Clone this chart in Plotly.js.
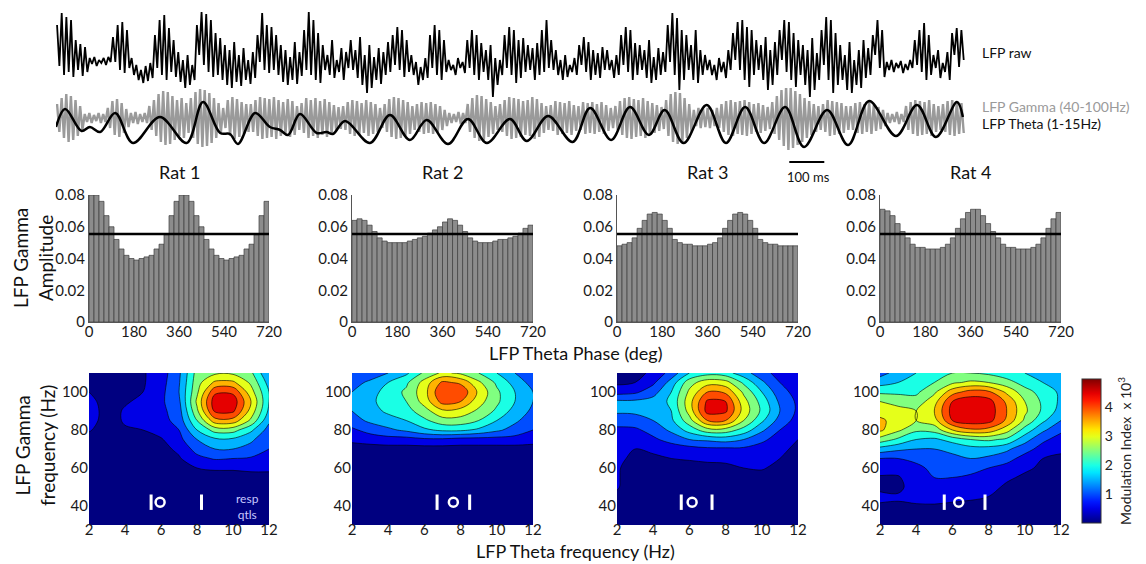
<!DOCTYPE html>
<html><head><meta charset="utf-8">
<script src="https://cdn.plot.ly/plotly-3.0.1.min.js"></script>
<style>html,body{margin:0;padding:0;background:#fff;}#chart{width:1146px;height:564px;}</style>
</head><body><div id="chart"></div>
<script>
// ---------------- DATA ----------------
const ratNames = ['Rat 1','Rat 2','Rat 3','Rat 4'];
const phaseDeg = [10,30,50,70,90,110,130,150,170,190,210,230,250,270,290,310,330,350,370,390,410,430,450,470,490,510,530,550,570,590,610,630,650,670,690,710];
const phaseTicks = [0,180,360,540,720];
const rat1Amp = [0.080,0.080,0.076,0.067,0.060,0.052,0.046,0.042,0.040,0.039,0.040,0.041,0.042,0.046,0.049,0.055,0.067,0.076,0.080,0.080,0.076,0.067,0.060,0.052,0.046,0.042,0.040,0.039,0.040,0.041,0.042,0.046,0.049,0.055,0.067,0.076];
const rat2Amp = [0.064,0.065,0.064,0.061,0.057,0.053,0.051,0.050,0.050,0.050,0.050,0.051,0.052,0.053,0.054,0.056,0.058,0.060,0.063,0.065,0.064,0.061,0.057,0.053,0.051,0.050,0.050,0.050,0.051,0.052,0.052,0.053,0.054,0.056,0.059,0.061];
const rat3Amp = [0.048,0.049,0.050,0.053,0.059,0.064,0.068,0.069,0.068,0.064,0.059,0.052,0.050,0.049,0.049,0.048,0.048,0.048,0.049,0.050,0.053,0.059,0.064,0.068,0.069,0.068,0.064,0.059,0.052,0.050,0.049,0.049,0.048,0.048,0.048,0.048];
const rat4Amp = [0.071,0.070,0.067,0.062,0.057,0.053,0.049,0.047,0.047,0.046,0.046,0.046,0.047,0.049,0.053,0.059,0.065,0.069,0.071,0.071,0.067,0.062,0.057,0.053,0.049,0.047,0.047,0.046,0.046,0.046,0.047,0.049,0.053,0.059,0.065,0.069];
const thresholdPhase = [0,720];
const thresholdAmp = [0.0555,0.0555];

const thetaFreq = [2,3,4,5,6,7,8,9,10,11,12];
const gammaFreq = [110,105,100,95,90,85,80,75,70,65,60,55,50,45,40,35,30];
const rat1MI = [
 [0.2,0.2,0.25,0.45,0.75,1.4,2.7,2.9,2.9,2.6,1.5],
 [0.2,0.2,0.3,0.45,0.8,1.45,2.8,3.6,3.6,2.9,1.8],
 [0.5,0.25,0.35,0.5,0.85,1.5,2.9,4.4,4.4,3.2,2.0],
 [0.65,0.3,0.45,0.6,0.9,1.4,3.1,4.8,4.8,3.5,2.0],
 [0.75,0.3,0.55,0.65,0.85,1.3,2.9,4.6,4.6,3.3,1.9],
 [0.7,0.3,0.55,0.6,0.8,1.2,2.5,3.8,3.8,2.9,1.6],
 [0.55,0.25,0.45,0.5,0.7,1.0,2.0,2.7,2.7,2.1,1.3],
 [0.3,0.2,0.3,0.35,0.45,0.85,1.5,1.9,1.9,1.6,1.1],
 [0.15,0.15,0.2,0.25,0.35,0.6,1.2,1.5,1.5,1.3,1.0],
 [0.15,0.15,0.2,0.2,0.3,0.45,0.85,1.05,1.0,0.95,0.85],
 [0.15,0.15,0.15,0.2,0.3,0.35,0.5,0.55,0.55,0.6,0.6],
 [0.15,0.15,0.15,0.2,0.35,0.3,0.3,0.35,0.35,0.35,0.35],
 [0.15,0.15,0.15,0.2,0.3,0.25,0.25,0.25,0.25,0.25,0.25],
 [0.15,0.15,0.15,0.15,0.2,0.2,0.2,0.2,0.2,0.2,0.2],
 [0.15,0.15,0.15,0.15,0.15,0.15,0.15,0.15,0.15,0.15,0.15],
 [0.15,0.15,0.15,0.15,0.15,0.15,0.15,0.15,0.15,0.15,0.15],
 [0.15,0.15,0.15,0.15,0.15,0.15,0.15,0.15,0.15,0.15,0.15]];
const rat2MI = [
 [1.1,1.2,1.5,1.9,2.6,3.1,2.9,2.5,2.0,1.5,1.0],
 [1.3,1.6,2.0,2.4,3.2,4.1,3.9,3.1,2.4,1.8,1.3],
 [1.5,1.8,2.2,2.6,3.3,4.5,4.4,3.4,2.6,2.0,1.5],
 [1.6,1.9,2.2,2.5,3.2,4.2,4.0,3.2,2.6,2.0,1.5],
 [1.5,1.8,2.1,2.3,2.8,3.4,3.3,2.9,2.4,1.8,1.4],
 [1.3,1.6,1.8,2.0,2.4,2.8,2.8,2.5,2.0,1.6,1.2],
 [0.9,1.2,1.4,1.6,1.9,2.1,2.1,1.9,1.6,1.3,1.0],
 [0.6,0.7,0.8,0.8,0.9,0.9,0.8,0.8,0.8,0.8,0.7],
 [0.3,0.3,0.3,0.3,0.3,0.3,0.3,0.3,0.3,0.3,0.3],
 [0.2,0.2,0.2,0.2,0.2,0.2,0.2,0.2,0.2,0.2,0.2],
 [0.2,0.2,0.2,0.2,0.2,0.2,0.2,0.2,0.2,0.2,0.2],
 [0.2,0.2,0.2,0.2,0.2,0.2,0.2,0.2,0.2,0.2,0.2],
 [0.2,0.2,0.2,0.2,0.2,0.2,0.2,0.2,0.2,0.2,0.2],
 [0.2,0.2,0.2,0.2,0.2,0.2,0.2,0.2,0.2,0.2,0.2],
 [0.2,0.2,0.2,0.2,0.2,0.2,0.2,0.2,0.2,0.2,0.2],
 [0.2,0.2,0.2,0.2,0.2,0.2,0.2,0.2,0.2,0.2,0.2],
 [0.2,0.2,0.2,0.2,0.2,0.2,0.2,0.2,0.2,0.2,0.2]];
const rat3MI = [
 [0.3,0.35,0.6,1.2,2.0,2.3,2.2,1.7,1.2,0.8,0.6],
 [0.4,0.5,0.9,1.7,2.8,3.3,3.2,2.4,1.6,1.0,0.7],
 [0.8,0.9,1.3,2.0,3.1,4.0,3.9,2.9,2.0,1.2,0.8],
 [1.6,1.6,1.7,2.1,3.3,4.6,4.5,3.2,2.3,1.4,0.9],
 [1.6,1.6,1.7,2.0,3.2,4.7,4.6,3.3,2.4,1.5,0.9],
 [1.2,1.3,1.5,1.9,2.8,4.0,4.0,3.0,2.1,1.3,0.8],
 [0.9,0.9,1.2,1.6,2.2,2.8,2.8,2.3,1.6,1.0,0.6],
 [0.7,0.6,0.9,1.2,1.5,1.6,1.7,1.5,1.1,0.8,0.5],
 [0.6,0.5,0.6,0.7,0.8,0.9,0.9,0.9,0.8,0.6,0.4],
 [0.6,0.4,0.4,0.5,0.55,0.6,0.6,0.65,0.65,0.5,0.3],
 [0.55,0.3,0.3,0.3,0.3,0.35,0.4,0.5,0.55,0.35,0.25],
 [0.55,0.25,0.2,0.2,0.2,0.2,0.25,0.3,0.3,0.25,0.2],
 [0.55,0.2,0.2,0.2,0.2,0.2,0.2,0.2,0.2,0.2,0.2],
 [0.4,0.2,0.2,0.2,0.2,0.2,0.2,0.2,0.2,0.2,0.2],
 [0.2,0.2,0.2,0.2,0.2,0.2,0.2,0.2,0.2,0.2,0.2],
 [0.2,0.2,0.2,0.2,0.2,0.2,0.2,0.2,0.2,0.2,0.2],
 [0.2,0.2,0.2,0.2,0.2,0.2,0.2,0.2,0.2,0.2,0.2]];
const rat4MI = [
 [1.3,1.7,2.0,2.3,2.5,2.5,2.4,2.2,2.0,1.8,1.6],
 [1.8,2.0,2.1,2.5,2.9,3.1,3.0,2.7,2.3,2.0,1.7],
 [2.4,2.4,2.4,2.9,3.8,4.2,4.1,3.4,2.7,2.3,1.9],
 [3.0,2.8,2.7,3.3,4.5,4.8,4.7,3.9,3.0,2.4,1.9],
 [3.3,3.2,3.0,3.5,4.7,4.95,4.8,4.0,3.1,2.4,1.8],
 [3.6,3.3,3.0,3.3,4.5,4.8,4.7,3.9,2.9,2.1,1.5],
 [3.6,3.1,2.6,2.7,3.5,3.9,3.8,3.2,2.3,1.6,1.1],
 [2.8,2.4,2.0,1.9,2.2,2.5,2.6,2.4,1.7,1.1,0.8],
 [1.8,1.6,1.5,1.5,1.6,1.8,1.8,1.6,1.2,0.8,0.6],
 [1.0,1.0,1.1,1.2,1.4,1.5,1.4,1.2,0.8,0.5,0.4],
 [0.7,0.7,0.9,1.1,1.2,1.2,1.0,0.8,0.55,0.45,0.35],
 [0.45,0.45,0.8,1.0,1.0,0.9,0.7,0.55,0.45,0.35,0.3],
 [0.4,0.4,0.7,0.9,0.8,0.7,0.6,0.45,0.35,0.3,0.3],
 [0.6,0.55,0.65,0.7,0.65,0.6,0.5,0.4,0.3,0.3,0.3],
 [0.45,0.45,0.45,0.45,0.4,0.35,0.3,0.3,0.3,0.3,0.3],
 [0.3,0.3,0.3,0.3,0.3,0.3,0.3,0.3,0.3,0.3,0.3],
 [0.3,0.3,0.3,0.3,0.3,0.3,0.3,0.3,0.3,0.3,0.3]];
// response quantiles (low, median, high) in Hz
const rat1Qtl = [5.45,5.95,8.25];
const rat2Qtl = [6.7,7.6,8.5];
const rat3Qtl = [5.55,6.15,7.25];
const rat4Qtl = [5.55,6.35,7.8];
const qtlGamma = 42;
const miTicks = [1,2,3,4];
const miMax = 4.97;

// example LFP traces (time in ms)
const traceDurMs = 2597;
const scaleBarMs = [2095,2195];
const thetaMs = [0,26,73,97,126,169,220,297,373,420,469,497,520,569,611,640,663,697,745,773,791,826,897,954,1011,1059,1120,1177,1231,1297,1345,1406,1476,1526,1586,1640,1694,1739,1793,1859,1914,1969,2023,2083,2137,2203,2263,2323,2400,2460,2514,2574,2591];
const thetaVal = [-3,15,-7,-3,-8,11,-19,7,-19,22,-9,-10,-20,11,-3,-6,-11,10,-9,-8,-10,3,-19,9,-16,4,-20,5,-19,5,-17,8,-18,16,-16,17,-11,14,-19,19,-19,17,-19,17,-23,14,-21,23,-12,19,-13,22,7];
const gammaAmp = [14,20,24,22,18,12, 4,5,3,5,4, 10,17,19,15,9, 5,6,4,5, 12,18,24,27,26,22,18,20,15, 20,26,29,28,25,20,15,10, 18,21,19,16,14, 14,18,21,20,19,21,18,16,19,17,12, 15,20,18,20,17,19,16,13,11, 12,16,18,17,15,18,16,14,10, 14,19,21,20,18,16,12, 14,16,15,16,14,12,8, 5,4,6,5, 14,20,23,22,19,16,12, 14,18,21,20,19,17,18,21,19,15,12, 13,17,16,15,17,13, 12,16,15,16,14,16,13,10, 12,17,20,21,19,18,20,17,15,13,11, 18,24,26,25,20,14, 8,10,9,10,8, 10,14,17,18,16,17,18,16,14,15,13,11, 16,22,28,32,30,27,24,20,17,14,12, 14,18,17,16,15,12, 12,15,16,14,16,13,11,8, 5,4,6,4, 12,16,18,17,16,18,14,12, 14,17,18,16,15];
const rawPeaks = [75,87,83,80, 60,56,53, 42,43,40,42,43, 63,75,78,70, 42,35,30,34,37, 65,80,85,72, 60,48,40,45,35, 75,88,86,80, 67,62,55,50,58,45,52,40,48, 65,87,75, 73,65,55,50,43,58,48, 70,88,80,67, 55,45,60,40,52,48, 60,50,63,45,55,43,52,48,58, 65,73,70,60, 45,38,33,42, 65,75,70,60, 40,35,42,38, 60,70,65,57, 50,55,42,40, 65,73,70,60,62, 55,52,57,70,80, 60,50,40,45,35,42, 55,63,58,50,47,53, 50,40,45, 65,73,70,57, 55,50,60,43,52,48, 75,87,82,70, 65,55,70,50, 45,40,35,42,38,50, 67,78,80,73,70, 60,55,63,50,58, 70,80,78,67, 60,55,50,62,47, 70,83,80,67, 55,45,58,40,50,60,52, 65,80,70, 38,40,37,39,36,40, 60,70,77,65, 45,50,37,48, 67,72,70];
const rawTroughs = [34,25,28,23, 30,24,28, 36,34,37,35,38, 38,30,27,32, 25,20,17,19,22, 32,25,20,28, 23,18,12,15,20, 45,35,28,23, 25,20,15,12,18,14,20,16,22, 38,30,27, 30,25,18,15,20,16,24, 30,25,20,17, 30,25,22,28,20,32, 30,22,15,7,12,20,16,25,28, 35,30,23,28, 25,15,20,22, 32,25,20,28, 30,25,32,27, 32,25,20,28, 20,3,15,25, 32,25,17,22,28, 30,20,25,28,32, 30,25,20,23,28,25, 35,28,20,25,22,30, 30,22,25, 35,28,20,25, 30,22,17,20,25,28, 38,25,10,20, 30,20,17,25, 30,25,20,28,22,30, 40,30,20,13,25, 30,20,10,15,25, 40,28,20,13, 25,15,3,10,20, 35,20,7,15, 20,10,7,15,12,22,25, 45,32,23, 30,28,32,27,30,32, 35,28,20,25, 32,22,28,20, 45,33,40];

// ---------------- LAYOUT HELPERS ----------------
const W = 1146, H = 564;
const xd = (a,b) => [a/W, b/W];
const yd = (t,b) => [1-b/H, 1-t/H];
const FONT = 'Lato, "Open Sans", sans-serif';
const colPx = [[89,269],[352,533],[617,798],[880,1061]];
const ampSets = [rat1Amp,rat2Amp,rat3Amp,rat4Amp];
const miSets = [rat1MI,rat2MI,rat3MI,rat4MI];
const qtlSets = [rat1Qtl,rat2Qtl,rat3Qtl,rat4Qtl];

function jet(x){
  const c = v => Math.round(255*Math.max(0,Math.min(1,v)));
  return 'rgb('+c(1.5-Math.abs(4*x-3))+','+c(1.5-Math.abs(4*x-2))+','+c(1.5-Math.abs(4*x-1))+')';
}
const jetScale = [];
for(let i=0;i<=20;i++){ jetScale.push([i/20, jet(i/20)]); }
const bandScale = [];
for(let k=0;k<=9;k++){ bandScale.push([k/9, jet(k/10)]); }

const traces = [];
const layout = {
  width: W, height: H, margin:{l:0,r:0,t:0,b:0},
  paper_bgcolor:'#fff', plot_bgcolor:'rgba(0,0,0,0)',
  font:{family:FONT, size:15, color:'#111'},
  showlegend:false, bargap:0, annotations:[]
};
const tickFont = {size:15, color:'#1a1a1a'};

for(let i=0;i<4;i++){
  const s = String(i+1), sc = String(i+5);
  const [a,b] = colPx[i];
  traces.push({type:'bar', x:phaseDeg, y:ampSets[i], width:20, xaxis:'x'+s, yaxis:'y'+s,
    marker:{color:'#8c8c8c', line:{color:'#3c3c3c', width:0.7}}, hoverinfo:'skip'});
  traces.push({type:'scatter', mode:'lines', x:thresholdPhase, y:thresholdAmp, xaxis:'x'+s, yaxis:'y'+s,
    line:{color:'#000', width:2.5}, hoverinfo:'skip', cliponaxis:false});
  layout['xaxis'+(i===0?'':s)] = {domain:xd(a,b), range:[0,720], tickvals:phaseTicks, anchor:'y'+s,
    showline:true, linecolor:'#555', linewidth:1, ticks:'', ticklen:0, ticklabelstandoff:-4,
    showgrid:false, zeroline:false, tickfont:tickFont, fixedrange:true};
  layout['yaxis'+(i===0?'':s)] = {domain:yd(195,322), range:[0,0.08], tickvals:[0,0.02,0.04,0.06,0.08],
    ticktext:['0','0.02','0.04','0.06','0.08'], anchor:'x'+s,
    showline:true, linecolor:'#555', linewidth:1, ticks:'', ticklen:0, showgrid:false, zeroline:false,
    tickfont:tickFont, fixedrange:true};

  traces.push({type:'contour', x:thetaFreq, y:gammaFreq, z:miSets[i], xaxis:'x'+sc, yaxis:'y'+sc,
    autocontour:false, contours:{start:0.5, end:4.5, size:0.5, coloring:'fill'},
    colorscale:bandScale, showscale:false, line:{color:'#000', width:0.6, smoothing:1},
    hoverinfo:'skip'});
  const q = qtlSets[i];
  traces.push({type:'scatter', mode:'markers', x:[q[0],q[2]], y:[qtlGamma,qtlGamma], xaxis:'x'+sc, yaxis:'y'+sc,
    marker:{symbol:'line-ns-open', size:11, color:'#fff', line:{color:'#fff', width:3}}, hoverinfo:'skip'});
  traces.push({type:'scatter', mode:'markers', x:[q[1]], y:[qtlGamma], xaxis:'x'+sc, yaxis:'y'+sc,
    marker:{symbol:'circle-open', size:9, color:'#fff', line:{color:'#fff', width:2.5}}, hoverinfo:'skip'});
  layout['xaxis'+sc] = {domain:xd(a,b), range:[2,12], tickvals:[2,4,6,8,10,12], anchor:'y'+sc,
    showline:false, ticks:'', ticklen:0, ticklabelstandoff:-6, showgrid:false, zeroline:false,
    tickfont:tickFont, fixedrange:true};
  layout['yaxis'+sc] = {domain:yd(373,525), range:[30,110], tickvals:[40,60,80,100], anchor:'x'+sc,
    showline:false, ticks:'', ticklen:0, showgrid:false, zeroline:false, tickfont:tickFont, fixedrange:true};

  layout.annotations.push({text:ratNames[i], xref:'paper', yref:'paper', x:(a+b)/2/W, y:1-172/H,
    showarrow:false, font:{size:18, color:'#111'}, xanchor:'center', yanchor:'middle'});
}

// colorbar (continuous jet) carried by an off-range marker
traces.push({type:'scatter', mode:'markers', x:[-100], y:[0], xaxis:'x8', yaxis:'y8', hoverinfo:'skip',
  marker:{color:[0], cmin:0, cmax:miMax, colorscale:jetScale, showscale:true, size:1,
    colorbar:{x:1082/W, xanchor:'left', y:1-451/H, yanchor:'middle', len:144/H, lenmode:'fraction',
      thickness:19, thicknessmode:'pixels', xpad:0, ypad:0, outlinewidth:1, outlinecolor:'#333',
      tickvals:miTicks, ticks:'', tickfont:{size:14, color:'#222'},
      title:{text:'Modulation Index  x 10<sup>3</sup>', side:'right', font:{size:14, color:'#222'}}}}});

// LFP traces
const gammaY = [];
gammaAmp.forEach(a => { gammaY.push(a, -a); });
const rawY = [];
rawPeaks.forEach((p,k) => { rawY.push(p, rawTroughs[k]); });
traces.push({type:'scatter', mode:'lines', y:rawY, x0:3, dx:traceDurMs/rawY.length, xaxis:'x9', yaxis:'y9',
  line:{color:'#000', width:1.8}, hoverinfo:'skip'});
traces.push({type:'scatter', mode:'lines', y:gammaY, x0:3, dx:traceDurMs/gammaY.length, xaxis:'x9', yaxis:'y10',
  line:{color:'#9a9a9a', width:2.4}, hoverinfo:'skip'});
traces.push({type:'scatter', mode:'lines', x:thetaMs, y:thetaVal, xaxis:'x9', yaxis:'y11',
  line:{color:'#000', width:2.5, shape:'spline', smoothing:1}, hoverinfo:'skip'});
traces.push({type:'scatter', mode:'lines', x:scaleBarMs, y:[-38,-38], xaxis:'x9', yaxis:'y11',
  line:{color:'#000', width:2}, hoverinfo:'skip'});
layout.xaxis9 = {domain:xd(56,965), range:[0,traceDurMs], visible:false, fixedrange:true, anchor:'y9'};
layout.yaxis9 = {domain:yd(5,100), range:[0,95], visible:false, fixedrange:true, anchor:'x9'};
layout.yaxis10 = {domain:yd(88,170), range:[-52,30], visible:false, fixedrange:true, anchor:'x9'};
layout.yaxis11 = {overlaying:'y10', range:[-46,36], visible:false, fixedrange:true, anchor:'x9'};

function ann(text, xpx, ypx, opts){
  layout.annotations.push(Object.assign({text:text, xref:'paper', yref:'paper', x:xpx/W, y:1-ypx/H,
    showarrow:false, xanchor:'center', yanchor:'middle', font:{size:19, color:'#111'}}, opts||{}));
}
ann('LFP Gamma<br>Amplitude', 33, 258, {textangle:-90});
ann('LFP Gamma<br>frequency (Hz)', 35, 446, {textangle:-90});
ann('LFP Theta Phase (deg)', 575, 353, {font:{size:18, color:'#111'}});
ann('LFP Theta frequency (Hz)', 575, 551, {font:{size:18, color:'#111'}});
ann('LFP raw', 980, 52, {xanchor:'left', font:{size:14, color:'#111'}});
ann('LFP Gamma (40-100Hz)', 980, 106, {xanchor:'left', font:{size:14, color:'#9a9a9a'}});
ann('LFP Theta (1-15Hz)', 980, 124, {xanchor:'left', font:{size:14, color:'#111'}});
ann('100 ms', 808, 177, {font:{size:13, color:'#111'}});
ann('resp<br>qtls', 247, 506, {font:{size:12, color:'#c8c8ff'}});

Plotly.newPlot('chart', traces, layout, {staticPlot:true, displayModeBar:false});
</script></body></html>
